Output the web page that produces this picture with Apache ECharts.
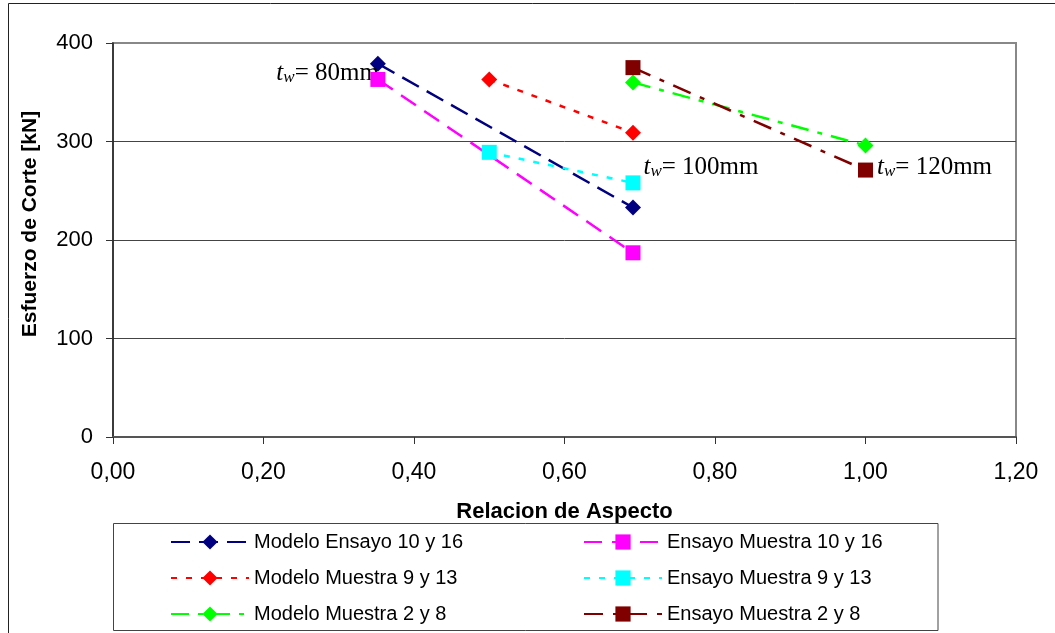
<!DOCTYPE html>
<html>
<head>
<meta charset="utf-8">
<script src="https://cdn.jsdelivr.net/npm/echarts@6/dist/echarts.min.js"></script>
<style>
  html, body { margin: 0; padding: 0; background: #fff; }
  #chart { width: 1055px; height: 633px; }
</style>
</head>
<body>
<div id="chart"></div>
<script>
// Shear strength versus aspect ratio for walls of three web thicknesses
const xTicks = [0, 0.2, 0.4, 0.6, 0.8, 1.0, 1.2];
const yTicks = [0, 100, 200, 300, 400];

const seriesNames = [
  'Modelo Ensayo 10 y 16',
  'Ensayo Muestra 10 y 16',
  'Modelo Muestra 9 y 13',
  'Ensayo Muestra 9 y 13',
  'Modelo Muestra 2 y 8',
  'Ensayo Muestra 2 y 8'
];

// aspect ratio (x) and shear force in kN (y) for each series
const modeloEnsayo1016_x = [0.352, 0.691];
const modeloEnsayo1016_y = [379, 233];
const ensayoMuestra1016_x = [0.352, 0.691];
const ensayoMuestra1016_y = [363, 187];
const modeloMuestra913_x = [0.50, 0.691];
const modeloMuestra913_y = [363, 309];
const ensayoMuestra913_x = [0.50, 0.691];
const ensayoMuestra913_y = [289, 258];
const modeloMuestra28_x = [0.691, 1.00];
const modeloMuestra28_y = [360, 296];
const ensayoMuestra28_x = [0.691, 1.00];
const ensayoMuestra28_y = [375, 271];

// web thickness notes
const thicknessLabels = ['80mm', '100mm', '120mm'];

const SANS = 'Liberation Sans, Arial, sans-serif';
const SERIF = 'Liberation Serif, Times New Roman, serif';

function pairs(xs, ys) { return xs.map((x, i) => [x, ys[i]]); }

const noteRich = {
  t: { fontFamily: SERIF, fontStyle: 'italic', fontSize: 25, color: '#000', verticalAlign: 'middle' },
  w: { fontFamily: SERIF, fontStyle: 'italic', fontSize: 17, color: '#000', verticalAlign: 'bottom', lineHeight: 17 },
  n: { fontFamily: SERIF, fontSize: 25, color: '#000', verticalAlign: 'middle' }
};

function note(text, position, distance, offset) {
  return {
    show: true,
    position: position,
    distance: distance,
    offset: offset,
    formatter: '{t|t}{w|w}{n|= ' + text + '}',
    rich: noteRich
  };
}

function withNote(points, idx, lbl) {
  return points.map((p, i) => i === idx ? { value: p, label: lbl } : { value: p });
}

const styles = [
  { color: '#000080', symbol: 'diamond', size: 16, dash: [19, 9] },
  { color: '#FF00FF', symbol: 'rect', size: 15, dash: [18, 10] },
  { color: '#FF0000', symbol: 'diamond', size: 16, dash: [6, 9] },
  { color: '#00FFFF', symbol: 'rect', size: 15, dash: [6, 9] },
  { color: '#00FF00', symbol: 'diamond', size: 16, dash: [18, 9, 5, 9] },
  { color: '#800000', symbol: 'rect', size: 15, dash: [19, 10, 5, 10] }
];

const seriesData = [
  withNote(pairs(modeloEnsayo1016_x, modeloEnsayo1016_y), 0, note(thicknessLabels[0], 'left', 0, [9, 10])),
  pairs(ensayoMuestra1016_x, ensayoMuestra1016_y),
  pairs(modeloMuestra913_x, modeloMuestra913_y),
  withNote(pairs(ensayoMuestra913_x, ensayoMuestra913_y), 1, note(thicknessLabels[1], 'right', 3, [0, -15])),
  pairs(modeloMuestra28_x, modeloMuestra28_y),
  withNote(pairs(ensayoMuestra28_x, ensayoMuestra28_y), 1, note(thicknessLabels[2], 'right', 4, [0, -3]))
];

const series = seriesNames.map((name, i) => ({
  name: name,
  type: 'line',
  data: seriesData[i],
  symbol: styles[i].symbol,
  symbolSize: styles[i].size,
  itemStyle: { color: styles[i].color },
  lineStyle: { color: styles[i].color, width: 2.5, type: styles[i].dash },
  label: { show: false },
  emphasis: { disabled: true },
  animation: false,
  z: 2 + i
}));

const legendCommon = {
  orient: 'vertical',
  top: 532,
  padding: 0,
  itemWidth: 78,
  itemHeight: 19,
  itemGap: 16,
  selectedMode: false,
  textStyle: { fontFamily: SANS, fontSize: 20, color: '#000' }
};

const option = {
  animation: false,
  backgroundColor: '#fff',
  grid: {
    left: 113, right: 39, top: 43, bottom: 196,
    show: true, borderColor: '#888', borderWidth: 2, backgroundColor: '#fff'
  },
  xAxis: {
    type: 'value',
    min: xTicks[0], max: xTicks[xTicks.length - 1], interval: xTicks[1] - xTicks[0],
    name: 'Relacion de Aspecto',
    nameLocation: 'middle',
    nameGap: 64,
    nameTextStyle: { fontFamily: SANS, fontSize: 22, fontWeight: 'bold', color: '#000' },
    axisLine: { show: true, lineStyle: { color: '#555', width: 2 } },
    axisTick: { show: true, length: 7, lineStyle: { color: '#333', width: 1 } },
    axisLabel: {
      margin: 24, fontFamily: SANS, fontSize: 23, color: '#000',
      formatter: v => v.toFixed(2).replace('.', ',')
    },
    splitLine: { show: false }
  },
  yAxis: {
    type: 'value',
    min: yTicks[0], max: yTicks[yTicks.length - 1], interval: yTicks[1] - yTicks[0],
    name: 'Esfuerzo de Corte [kN]',
    nameLocation: 'middle',
    nameGap: 72,
    nameTextStyle: { fontFamily: SANS, fontSize: 21, fontWeight: 'bold', color: '#000', padding: [0, 0, 0, 32] },
    axisLine: { show: true, onZero: false, lineStyle: { color: '#222', width: 1.5 } },
    axisTick: { show: true, length: 7, lineStyle: { color: '#333', width: 1 } },
    axisLabel: { margin: 20, fontFamily: SANS, fontSize: 22, color: '#000' },
    splitLine: { show: true, showMaxLine: false, lineStyle: { color: '#444', width: 1 } }
  },
  legend: [
    Object.assign({}, legendCommon, { left: 170, data: [seriesNames[0], seriesNames[2], seriesNames[4]] }),
    Object.assign({}, legendCommon, { left: 583, data: [seriesNames[1], seriesNames[3], seriesNames[5]] })
  ],
  graphic: [
    { type: 'rect', z: 0, silent: true,
      shape: { x: 8.5, y: 3.5, width: 2000, height: 2000 },
      style: { fill: 'none', stroke: '#222', lineWidth: 1 } },
    { type: 'rect', z: 1, silent: true,
      shape: { x: 113.5, y: 523.5, width: 824.5, height: 107 },
      style: { fill: '#fff', stroke: '#444', lineWidth: 1 } }
  ],
  series: series
};

const chart = echarts.init(document.getElementById('chart'), null, { renderer: 'canvas' });
chart.setOption(option);
</script>
</body>
</html>
